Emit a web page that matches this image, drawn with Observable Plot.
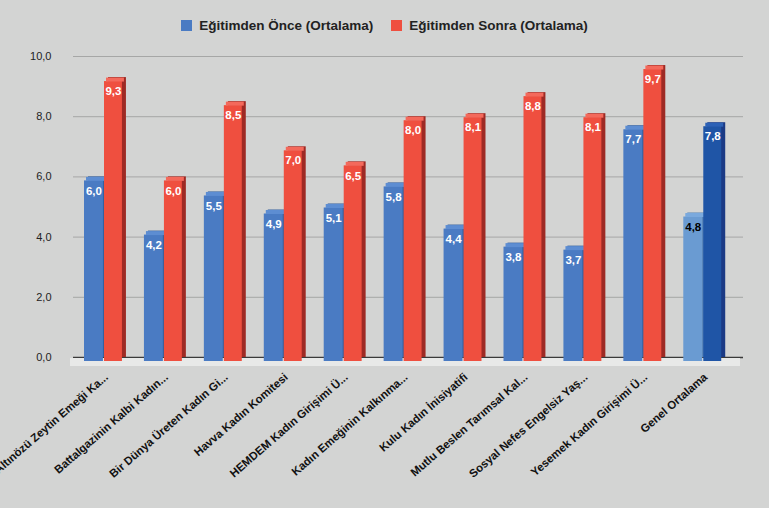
<!DOCTYPE html>
<html><head><meta charset="utf-8">
<script src="https://cdn.jsdelivr.net/npm/d3@7"></script>
<script src="https://cdn.jsdelivr.net/npm/@observablehq/plot@0.6"></script>
<style>
body{margin:0;background:#d3d4d3;font-family:"Liberation Sans",Arial,sans-serif;overflow:hidden}
#legend{height:42px;padding-top:4px;display:flex;justify-content:center;align-items:center;gap:18px;font-weight:bold;font-size:13.5px;color:#222;}
.item{display:flex;align-items:center;gap:7px}
.sw{width:11px;height:11px;display:inline-block}
</style></head><body>
<div id="legend"></div>
<div id="chart"></div>
<script>
const categories = [
  "Altınözü Zeytin Emeği Ka...",
  "Battalgazinin Kalbi Kadın...",
  "Bir Dünya Üreten Kadın Gi...",
  "Havva Kadın Komitesi",
  "HEMDEM Kadın Girişimi Ü...",
  "Kadın Emeğinin Kalkınma...",
  "Kulu Kadın İnisiyatifi",
  "Mutlu Beslen Tarımsal Kal...",
  "Sosyal Nefes Engelsiz Yaş...",
  "Yesemek Kadın Girişimi Ü...",
  "Genel Ortalama"
];
const before = [6.0, 4.2, 5.5, 4.9, 5.1, 5.8, 4.4, 3.8, 3.7, 7.7, 4.8];
const after  = [9.3, 6.0, 8.5, 7.0, 6.5, 8.0, 8.1, 8.8, 8.1, 9.7, 7.8];
const yTicks = [0, 2, 4, 6, 8, 10];
const seriesNames = ["Eğitimden Önce (Ortalama)", "Eğitimden Sonra (Ortalama)"];
const totalLabel = "Genel Ortalama";

const palette = {
  blue:  {front: "#4a7bc3", side: "#35609f", top: "#5d8dd2", text: "#ffffff"},
  red:   {front: "#ef4f3f", side: "#9e2a24", top: "#f4695b", text: "#ffffff"},
  lblue: {front: "#6a9bd2", side: "#5480b4", top: "#7aa9dd", text: "#000000"},
  dblue: {front: "#1f55a6", side: "#1b3a85", top: "#2c61b6", text: "#ffffff"}
};
function pal(d) {
  if (d.cat === totalLabel) return d.s === 0 ? palette.lblue : palette.dblue;
  return d.s === 0 ? palette.blue : palette.red;
}
const rowsB = categories.map((c, i) => ({cat: c, s: 0, value: before[i]}));
const rowsA = categories.map((c, i) => ({cat: c, s: 1, value: after[i]}));
const fmt = v => v.toFixed(1).replace(".", ",");

// legend
const lg = document.getElementById("legend");
[palette.blue.front, palette.red.front].forEach((col, i) => {
  const it = document.createElement("div");
  it.className = "item";
  it.innerHTML = `<span class="sw" style="background:${col}"></span><span>${seriesNames[i]}</span>`;
  lg.appendChild(it);
});

const geom = [
  {rows: rowsB, insetLeft: 11, insetRight: 30, dx: -9.5},
  {rows: rowsA, insetLeft: 31, insetRight: 11, dx: 10}
];

const marks = [
  Plot.ruleY(yTicks.filter(t => t > 0), {stroke: "#a6a7a6", strokeWidth: 1}),
  Plot.ruleY([0], {stroke: "#3a3a3a", strokeWidth: 1.5}),
  Plot.ruleY([0], {stroke: "#e8e9e8", strokeWidth: 8, dy: 4.5, dx: -3})
];
for (const g of geom) {
  marks.push(Plot.barY(g.rows, {x: "cat", y: "value", insetLeft: g.insetLeft, insetRight: g.insetRight, dx: 4, fill: d => pal(d).side}));
}
for (const g of geom) {
  marks.push(Plot.barY(g.rows, {x: "cat", y: "value", insetLeft: g.insetLeft, insetRight: g.insetRight, dy: 4, fill: d => pal(d).front}));
  marks.push(Plot.tickY(g.rows, {x: "cat", y: "value", insetLeft: g.insetLeft, insetRight: g.insetRight, dx: 2, dy: 2, strokeWidth: 4, stroke: d => pal(d).top}));
  marks.push(Plot.text(g.rows, {x: "cat", y: "value", text: d => fmt(d.value), dx: g.dx, dy: 14, lineAnchor: "middle", fill: d => pal(d).text, fontWeight: "bold", fontSize: 11.5}));
}
marks.push(Plot.text(categories, {x: d => d, frameAnchor: "bottom", dx: 3, dy: 18, rotate: -41, textAnchor: "end", lineAnchor: "middle", fontWeight: "bold", fontSize: 11.4, fill: "#111"}));

const chart = Plot.plot({
  width: 769,
  height: 462,
  marginLeft: 73,
  marginRight: 26,
  marginTop: 10,
  marginBottom: 151,
  style: {background: "transparent", fontFamily: "'Liberation Sans', Arial, sans-serif", fontSize: "11px", color: "#222", overflow: "visible"},
  color: {type: "identity"},
  x: {domain: categories, axis: null, paddingInner: 0, paddingOuter: 0.09, align: 0, round: false},
  y: {domain: [0, 10], ticks: yTicks, tickFormat: fmt, tickSize: 0, tickPadding: 22, label: null},
  marks
});
document.getElementById("chart").appendChild(chart);
</script>
</body></html>
